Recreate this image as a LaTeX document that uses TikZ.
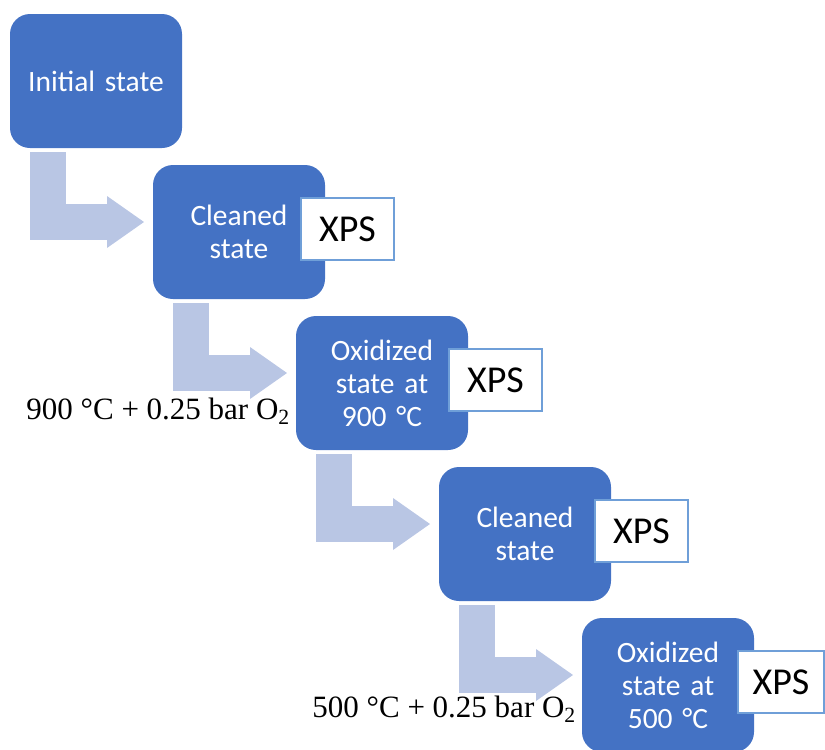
\documentclass[tikz,border=0pt]{standalone}
\usepackage{fontspec}
\setmainfont{Liberation Serif}
\newfontfamily\calfont{Carlito}
\usetikzlibrary{arrows.meta,positioning}
\definecolor{stateblue}{HTML}{4472C4}
\definecolor{flowblue}{HTML}{B9C6E4}
\definecolor{xpsline}{HTML}{6F9FD8}
\tikzstyle{state}=[rectangle, rounded corners=20pt, fill=stateblue, text=white,
  minimum width=172pt, minimum height=134pt, text width=150pt, align=center,
  inner sep=0pt, outer sep=0pt, font=\calfont\fontsize{29.5}{33}\selectfont]
\tikzstyle{xps}=[rectangle, draw=xpsline, line width=2.5pt, fill=white,
  minimum width=93pt, minimum height=62pt, inner sep=0pt, outer sep=0pt,
  font=\calfont\fontsize{38}{40}\selectfont]
\tikzstyle{flow}=[draw=flowblue, line width=36pt,
  -{Triangle[length=37pt 0 0, width=52pt 0 0, line width=0pt 0 0]}]

\begin{document}
\begin{tikzpicture}[x=1pt, y=-1pt, node distance=17pt and -29pt,
  cond/.style={font=\fontsize{31}{33}\selectfont, inner sep=0pt}]
\useasboundingbox (0,0) rectangle (825,750);
\node[state] (init) at (96,81) {Initial state};
\node[state,below right=of init] (clean1) {Cleaned\\state};
\node[state,below right=of clean1] (ox900) {Oxidized\\state at\\900 °C};
\node[state,below right=of ox900] (clean2) {Cleaned\\state};
\node[state,below right=of clean2] (ox500) {Oxidized\\state at\\500 °C};
\node[xps,right=-24pt of clean1,yshift=3pt] (xps1) {XPS};
\node[xps,right=-19pt of ox900,yshift=3pt] (xps2) {XPS};
\node[xps,right=-16pt of clean2,yshift=3pt] (xps3) {XPS};
\node[xps,right=-16pt of ox500,yshift=3pt,minimum width=86pt] (xps4) {XPS};
% bent arrows between the states
\draw[flow] ([xshift=38pt,yshift=-4pt]init.south west) |- ([xshift=-9pt,yshift=10pt]clean1.west);
\draw[flow] ([xshift=38pt,yshift=-4pt]clean1.south west) |- ([xshift=-9pt,yshift=10pt]ox900.west);
\draw[flow] ([xshift=38pt,yshift=-4pt]ox900.south west) |- ([xshift=-9pt,yshift=10pt]clean2.west);
\draw[flow] ([xshift=38pt,yshift=-4pt]clean2.south west) |- ([xshift=-9pt,yshift=10pt]ox500.west);
\node[cond,anchor=base east] (c900) at ([xshift=-6pt,yshift=31pt]ox900.south west) {900 °C + 0.25 bar O\textsubscript{2}};
\node[cond,anchor=base east] (c500) at ([xshift=-6pt,yshift=35pt]ox500.south west) {500 °C + 0.25 bar O\textsubscript{2}};
\end{tikzpicture}
\end{document}
